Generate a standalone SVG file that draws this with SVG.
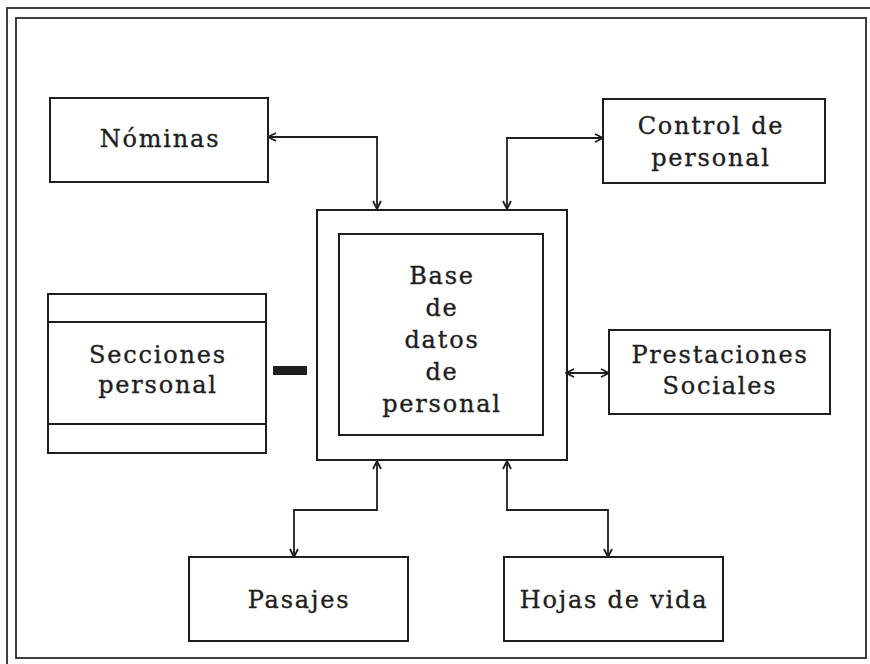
<svg xmlns="http://www.w3.org/2000/svg" width="870" height="664" viewBox="0 0 870 664">
<defs>
<style>
.box{fill:none;stroke:#1e1e1e;stroke-width:2}
.frame{fill:none;stroke:#2a2a2a;stroke-width:1.8}
.con{fill:none;stroke:#1e1e1e;stroke-width:1.8;marker-start:url(#ah);marker-end:url(#ah)}
.t{font-family:"DejaVu Serif","Liberation Serif",serif;font-size:24px;letter-spacing:1.8px;fill:#1e1e1e;stroke:#1e1e1e;stroke-width:0.35;text-anchor:middle}
</style>
<marker id="ah" viewBox="0 0 10 10" refX="9" refY="5" markerWidth="10" markerHeight="10" markerUnits="userSpaceOnUse" orient="auto-start-reverse">
<path d="M1,1 L9,5 L1,9" fill="none" stroke="#1e1e1e" stroke-width="1.8"/>
</marker>
</defs>
<rect width="870" height="664" fill="#ffffff"/>
<g id="frame">
<rect class="frame" x="7" y="8" width="900" height="700"/>
<rect class="frame" x="16" y="18" width="850" height="640"/>
</g>
<g id="connectors">
<path class="con" d="M268,137 H377 V209"/>
<path class="con" d="M603,138 H507 V209"/>
<path class="con" d="M566,373 H609"/>
<path class="con" d="M377,461 V510 H294 V557"/>
<path class="con" d="M507,461 V510 H608 V557"/>
<rect x="273" y="366" width="34" height="9" fill="#1e1e1e"/>
</g>
<g id="nominas">
<rect class="box" x="50" y="98" width="218" height="84"/>
<text class="t" x="160" y="147">Nóminas</text>
</g>
<g id="control">
<rect class="box" x="603" y="99" width="222" height="84"/>
<text class="t" x="711" y="134">Control de</text>
<text class="t" x="711" y="166">personal</text>
</g>
<g id="base">
<rect class="box" x="317" y="210" width="250" height="250"/>
<rect class="box" x="339" y="234" width="204" height="201"/>
<text class="t" x="442" y="284">Base</text>
<text class="t" x="442" y="316">de</text>
<text class="t" x="442" y="348">datos</text>
<text class="t" x="442" y="380">de</text>
<text class="t" x="442" y="412">personal</text>
</g>
<g id="secciones">
<rect class="box" x="48" y="294" width="218" height="159"/>
<line class="box" x1="48" y1="322" x2="266" y2="322"/>
<line class="box" x1="48" y1="424" x2="266" y2="424"/>
<text class="t" x="158" y="363">Secciones</text>
<text class="t" x="158" y="393">personal</text>
</g>
<g id="prestaciones">
<rect class="box" x="609" y="330" width="221" height="84"/>
<text class="t" x="720" y="363">Prestaciones</text>
<text class="t" x="720" y="394">Sociales</text>
</g>
<g id="pasajes">
<rect class="box" x="189" y="557" width="219" height="84"/>
<text class="t" x="299" y="608">Pasajes</text>
</g>
<g id="hojas">
<rect class="box" x="504" y="557" width="219" height="84"/>
<text class="t" x="614" y="608">Hojas de vida</text>
</g>
</svg>
